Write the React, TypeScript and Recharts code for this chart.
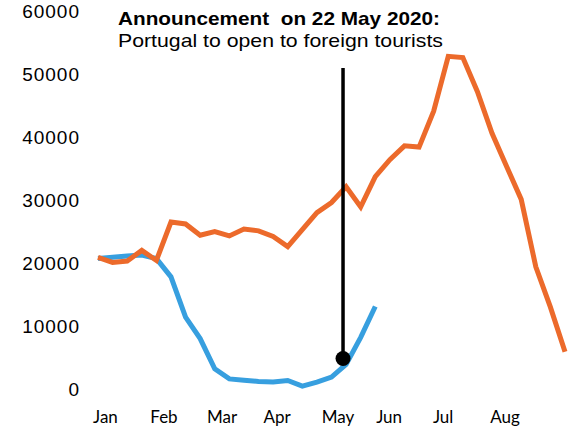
import React from "react";
import { LineChart, Line, XAxis, YAxis, ReferenceLine, ReferenceDot } from "recharts";

// Weekly arrivals (week index 1..33)
const weeks: number[] = Array.from({ length: 33 }, (_, i) => i + 1);

const series2019: number[] = [
  20900, 20100, 20300, 22000, 20400, 26500, 26200, 24400, 25000, 24300, 25400,
  25100, 24200, 22600, 25300, 28000, 29600, 32100, 28900, 33700, 36400, 38600,
  38400, 44100, 52800, 52600, 47200, 40600, 35300, 30100, 19400, 13000, 5900,
];

const series2020: number[] = [
  20700, 20900, 21100, 21250, 20700, 17800, 11400, 8000, 3200, 1600, 1400,
  1200, 1100, 1350, 450, 1100, 1900, 3900, 8200, 13100,
];

const yTicks: number[] = [0, 10000, 20000, 30000, 40000, 50000, 60000];
const monthLabels: string[] = ["Jan", "Feb", "Mar", "Apr", "May", "Jun", "Jul", "Aug"];
const monthTickWeeks: number[] = [1.51, 5.52, 9.5, 13.27, 17.45, 20.95, 24.65, 28.89];

const announcementWeek = 17.79;
const announcementValue = 4850;
const announcementTop = 50960;

const titleLine1 = "Announcement  on 22 May 2020:";
const titleLine2 = "Portugal to open to foreign tourists";

const data = weeks.map((w, i) => ({
  week: w,
  y2019: series2019[i],
  y2020: i < series2020.length ? series2020[i] : undefined,
}));

const ORANGE = "#EC6A2B";
const BLUE = "#379FDF";

export default function App() {
  return (
    <div style={{ position: "absolute", left: 0, top: 0, width: 577, height: 429, background: "#fff" }}>
      <LineChart
        width={577}
        height={429}
        data={data}
        margin={{ top: 11, right: 12, left: 0, bottom: 0 }}
      >
        <XAxis
          dataKey="week"
          type="number"
          domain={[1, 33]}
          ticks={monthTickWeeks}
          tickFormatter={(v: number) => monthLabels[monthTickWeeks.indexOf(v)] ?? ""}
          axisLine={false}
          tickLine={false}
          tickSize={0}
          tickMargin={22}
          height={40}
          interval={0}
          tick={{ fontFamily: "Lato", fontSize: 17, fill: "#000" }}
        />
        <YAxis
          type="number"
          domain={[0, 60000]}
          ticks={yTicks}
          axisLine={false}
          tickLine={false}
          tickSize={0}
          tickMargin={18}
          width={98}
          interval={0}
          tick={{ fontFamily: "Liberation Sans", fontSize: 19, fill: "#000", letterSpacing: 1 }}
        />
        <Line
          dataKey="y2020"
          type="linear"
          stroke={BLUE}
          strokeWidth={5}
          dot={false}
          isAnimationActive={false}
          connectNulls={false}
        />
        <Line
          dataKey="y2019"
          type="linear"
          stroke={ORANGE}
          strokeWidth={5}
          dot={false}
          isAnimationActive={false}
        />
        <ReferenceLine
          segment={[
            { x: announcementWeek, y: announcementValue },
            { x: announcementWeek, y: announcementTop },
          ]}
          stroke="#000"
          strokeWidth={3.5}
        />
        <ReferenceDot
          x={announcementWeek}
          y={announcementValue}
          r={7.5}
          fill="#000"
          stroke="none"
        />
      </LineChart>
      <svg
        width={577}
        height={70}
        style={{ position: "absolute", left: 0, top: 0, pointerEvents: "none" }}
      >
        <text
          x={118}
          y={25}
          fontFamily="Liberation Sans"
          fontWeight="bold"
          fontSize={19}
          fill="#000"
          textLength={322}
          lengthAdjust="spacingAndGlyphs"
          style={{ whiteSpace: "pre" }}
        >
          {titleLine1}
        </text>
        <text
          x={118}
          y={47}
          fontFamily="Liberation Sans"
          fontSize={19}
          fill="#000"
          textLength={325}
          lengthAdjust="spacingAndGlyphs"
        >
          {titleLine2}
        </text>
      </svg>
    </div>
  );
}
